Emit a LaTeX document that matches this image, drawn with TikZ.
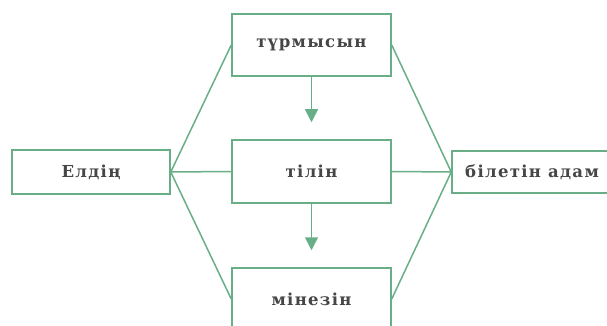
\documentclass[tikz,border=0pt]{standalone}
\usepackage{fontspec}
\setmainfont{DejaVu Serif}[LetterSpace=8]
\usetikzlibrary{arrows.meta}
\definecolor{lg}{RGB}{104,174,134}
\definecolor{tx}{RGB}{70,70,70}
\begin{document}
\begin{tikzpicture}[x=1pt,y=-1pt,
  box/.style={draw=lg,line width=1.5pt,fill=white,rectangle,inner sep=0pt,
    text=tx,font=\fontsize{16.5}{19}\selectfont\bfseries},
  conn/.style={draw=lg,line width=1.5pt},
  arr/.style={conn,-{Triangle[length=13pt,width=13pt]},shorten >=17pt}]
\path[use as bounding box] (0,0) rectangle (607,326);
\clip (0,0) rectangle (607,326);
\node[box,minimum width=158pt,minimum height=44pt] (el) at (91,172) {Елдің};
\node[box,minimum width=159pt,minimum height=62pt] (tur) at (311.5,45) {түрмысын};
\node[box,minimum width=159pt,minimum height=63pt] (til) at (311.5,171.5) {тілін};
\node[box,minimum width=159pt,minimum height=62pt] (min) at (311.5,299) {мінезін};
\node[box,minimum width=160pt,minimum height=42pt] (bil) at (532,172) {білетін адам};
\draw[conn] (el.east) -- (tur.west);
\draw[conn] (el.east) -- (til.west);
\draw[conn] (el.east) -- (min.west);
\draw[conn] (tur.east) -- (bil.west);
\draw[conn] (til.east) -- (bil.west);
\draw[conn] (min.east) -- (bil.west);
\draw[arr] (tur.south) -- (til.north);
\draw[arr] (til.south) -- (min.north);
\end{tikzpicture}
\end{document}
